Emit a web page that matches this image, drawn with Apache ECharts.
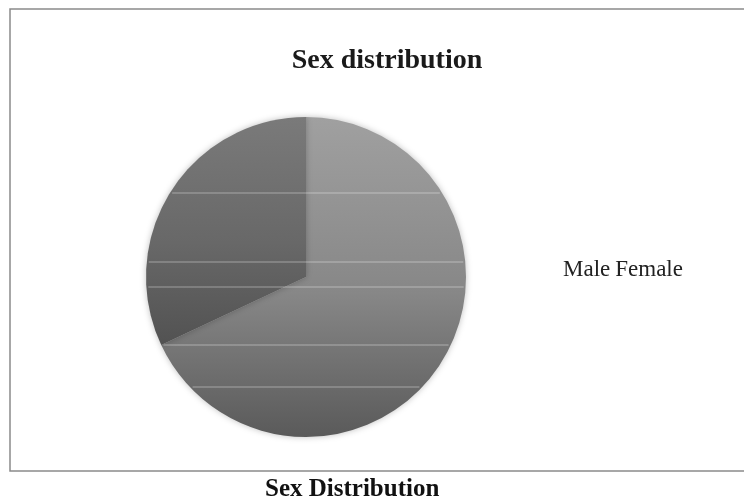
<!DOCTYPE html>
<html>
<head>
<meta charset="utf-8">
<script src="https://cdn.jsdelivr.net/npm/echarts@6/dist/echarts.min.js"></script>
<style>
  html, body { margin: 0; padding: 0; background: #fff; }
  #main { width: 744px; height: 500px; }
</style>
</head>
<body>
<div id="main"></div>
<script>
// data
var categories = ['Male', 'Female'];
var shares = [68, 32];
var titleText = 'Sex distribution';
var captionText = 'Sex Distribution';

var serif = '"Liberation Serif", "DejaVu Serif", serif';

// greys for the two slices (top -> bottom of the circle)
var sliceColors = [
  ['#a0a0a0', '#878787', '#5a5a5a'],
  ['#7a7a7a', '#686868', '#525252']
];

function greyGrad(c) {
  return new echarts.graphic.LinearGradient(0, 0, 0, 1, [
    { offset: 0, color: c[0] },
    { offset: 0.55, color: c[1] },
    { offset: 1, color: c[2] }
  ], false);
}

var pieData = [];
for (var i = 0; i < categories.length; i++) {
  pieData.push({
    name: categories[i],
    value: shares[i],
    itemStyle: { color: greyGrad(sliceColors[i]) }
  });
}

// faint white scan streaks over the pie (scanner artefacts)
var streakY = [193, 262, 287, 345, 387];
var streaks = [];
for (var k = 0; k < streakY.length; k++) {
  var dy = streakY[k] - 277;
  var half = Math.sqrt(Math.max(0, 158 * 158 - dy * dy));
  streaks.push({
    type: 'line',
    z: 100,
    silent: true,
    shape: { x1: 306 - half, y1: streakY[k], x2: 306 + half, y2: streakY[k] },
    style: { stroke: 'rgba(255,255,255,0.4)', lineWidth: 1.2 }
  });
}

var myChart = echarts.init(document.getElementById('main'));

var option = {
  backgroundColor: '#fff',
  animation: false,
  title: {
    text: titleText,
    left: 382,
    top: 42,
    textAlign: 'center',
    textStyle: {
      fontFamily: serif,
      fontWeight: 'bold',
      fontSize: 28,
      color: '#1a1a1a'
    }
  },
  legend: {
    orient: 'horizontal',
    left: 553,
    top: 253,
    itemWidth: 0,
    itemHeight: 0,
    itemGap: 0,
    icon: 'none',
    data: categories,
    textStyle: {
      fontFamily: serif,
      fontSize: 23,
      color: '#222',
      padding: 0
    }
  },
  graphic: [
    {
      type: 'rect',
      shape: { x: 10, y: 9, width: 760, height: 462 },
      style: { fill: null, stroke: '#8a8a8a', lineWidth: 1.5 },
      silent: true
    },
    {
      type: 'text',
      left: 265,
      top: 477,
      style: {
        text: captionText,
        font: 'bold 25px ' + serif,
        fill: '#111'
      }
    }
  ].concat(streaks),
  series: [
    {
      type: 'pie',
      center: [306, 277],
      radius: 160,
      startAngle: 90,
      clockwise: true,
      label: { show: false },
      labelLine: { show: false },
      emphasis: { disabled: true },
      itemStyle: {
        borderWidth: 0,
        shadowBlur: 6,
        shadowColor: 'rgba(0,0,0,0.25)'
      },
      data: pieData
    }
  ]
};

myChart.setOption(option);
</script>
</body>
</html>
